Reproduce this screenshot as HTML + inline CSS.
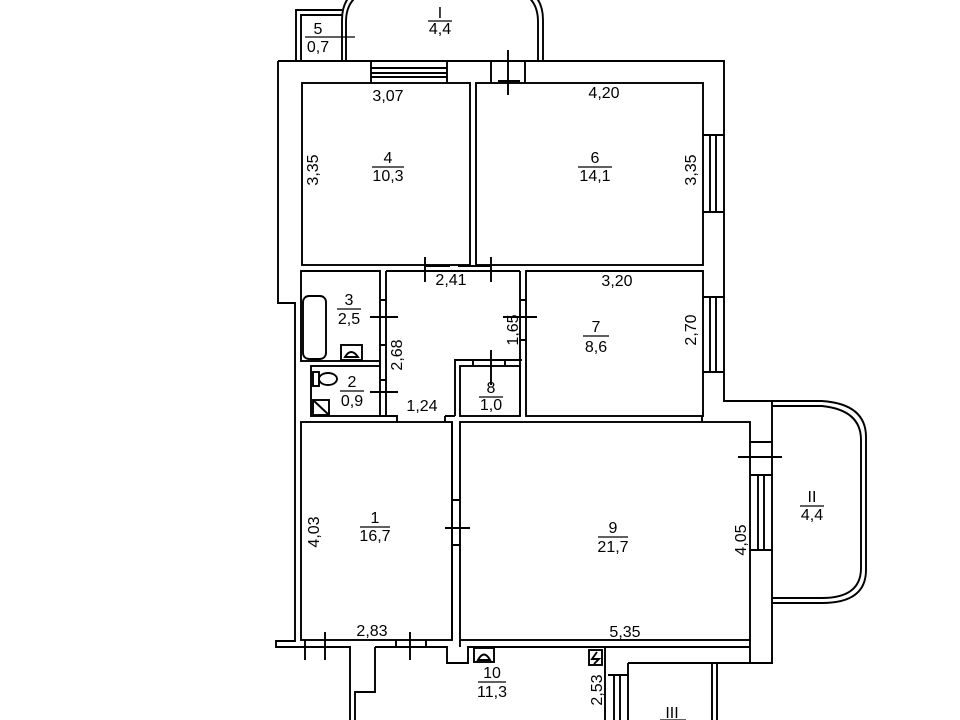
<!DOCTYPE html>
<html><head><meta charset="utf-8"><style>
html,body{margin:0;padding:0;background:#fff}
svg{display:block}
text{font-family:"Liberation Sans",sans-serif;font-size:16px;fill:#000;text-anchor:middle}
</style></head><body>
<svg width="960" height="720" viewBox="0 0 960 720" xmlns="http://www.w3.org/2000/svg">
<g fill="none" stroke="#000" stroke-width="1.9">
<path d="M278,61 H724 V401 H773 M772,401 V663 H628 M278,61 V303 H295 V641 H276 V647 H350 V720 M605,647 V720"/>
<path d="M342,61 V20 Q342,-10 372,-14 M346,61 V22 Q346,-6 374,-10 M543,61 V20 Q543,-10 513,-14 M538,61 V22 Q538,-6 511,-10"/>
<path d="M296,61 V10 H342 M301,61 V15 H342"/>
<path d="M371,61 V83 M447,61 V83 M371,68 H447 M371,73 H447 M371,77 H447 M491,61 V83 M525,61 V83 M508,50 V95 M498,81 H520"/>
<rect x="302" y="83" width="168" height="182"/>
<rect x="476" y="83" width="227" height="182"/>
<path d="M703,135 H724 M703,212 H724 M710,135 V212 M716,135 V212"/>
<path d="M703,297 H724 M703,372 H724 M710,297 V372 M716,297 V372"/>
<path d="M302,271 H380 M386,271 H520 M526,271 H703 M425,257 V282 M491,257 V282 M426,266 H450 M458,266 H490"/>
<rect x="301" y="271" width="79" height="90"/>
<rect x="303" y="296" width="23" height="63" rx="6"/>
<rect x="341" y="345" width="21" height="15"/>
<path d="M345,357 Q351,347 358,357 Z"/>
<rect x="311" y="366" width="69" height="50"/>
<rect x="313" y="372" width="6" height="14"/><ellipse cx="328" cy="379" rx="9" ry="6"/>
<rect x="313" y="400" width="16" height="15"/><path d="M313,400 L329,415"/>
<path d="M386,271 V416 M380,361 V366 M380,416 H397 V422 M370,317 H398 M370,392 H398 M380,300 H386 M380,345 H386 M380,380 H386"/>
<path d="M455,416 V360 H522"/>
<rect x="460" y="366" width="60" height="50"/>
<path d="M491,350 V385 M473,366 V361 M505,366 V361"/>
<rect x="526" y="271" width="177" height="145"/>
<path d="M520,271 V416 M503,317 H537 M520,300 H526 M520,340 H526"/>
<path d="M702,416 V422 M445,416 H455 M445,416 V422"/>
<rect x="301" y="422" width="151" height="218"/>
<rect x="460" y="422" width="290" height="218"/>
<path d="M452,422 V640 M445,528 H470 M452,500 H460 M452,545 H460"/>
<path d="M751,442 H773 M751,475 H773 M738,457 H782 M751,550 H773 M758,475 V550 M764,475 V550"/>
<path d="M773,401 H822 Q866,404 866,437 V570 Q866,603 822,603 H773 M773,406 H822 Q861,410 861,440 V568 Q861,598 822,598 H773"/>
<path d="M301,647 H350 M375,647 H447 V663 H468 V647 H750 M460,640 V647 M750,640 V663 M305,640 V660 M325,632 V660 M410,632 V660 M396,640 V647 M426,640 V647"/>
<path d="M375,647 V692 H355 V720"/>
<rect x="474" y="648" width="20" height="14"/><path d="M478,660 Q484,649 490,660 Z"/>
<rect x="589" y="650" width="13" height="15"/><path d="M597,652 L592,659 H599 L594,664"/>
<path d="M608,675 H628 M614,675 V720 M620,675 V720 M628,663 V720 M712,663 V720 M717,663 V720"/>
</g>
<g>
<text x="318" y="34">5</text><text x="318" y="52">0,7</text>
<text x="440" y="18">I</text><text x="440" y="34">4,4</text>
<text x="388" y="101">3,07</text><text x="604" y="98">4,20</text>
<text x="388" y="163">4</text><text x="388" y="181">10,3</text>
<text x="595" y="163">6</text><text x="595" y="181">14,1</text>
<text transform="translate(318,170) rotate(-90)">3,35</text>
<text transform="translate(696,170) rotate(-90)">3,35</text>
<text x="451" y="285">2,41</text><text x="617" y="286">3,20</text>
<text x="349" y="305">3</text><text x="349" y="324">2,5</text>
<text transform="translate(402,355) rotate(-90)">2,68</text>
<text transform="translate(518,330) rotate(-90)">1,65</text>
<text x="596" y="332">7</text><text x="596" y="352">8,6</text>
<text transform="translate(696,330) rotate(-90)">2,70</text>
<text x="352" y="387">2</text><text x="352" y="406">0,9</text>
<text x="422" y="411">1,24</text>
<text x="491" y="393">8</text><text x="491" y="410">1,0</text>
<text x="375" y="523">1</text><text x="375" y="541">16,7</text>
<text transform="translate(319,532) rotate(-90)">4,03</text>
<text x="613" y="533">9</text><text x="613" y="552">21,7</text>
<text transform="translate(746,540) rotate(-90)">4,05</text>
<text x="812" y="502">II</text><text x="812" y="520">4,4</text>
<text x="372" y="636">2,83</text><text x="625" y="637">5,35</text>
<text x="492" y="678">10</text><text x="492" y="697">11,3</text>
<text transform="translate(602,690) rotate(-90)">2,53</text>
<text x="672" y="718">III</text>
</g>
<g stroke="#000" stroke-width="1.2">
<line x1="305" y1="37" x2="355" y2="37"/>
<line x1="428" y1="21" x2="452" y2="21"/>
<line x1="372" y1="167" x2="404" y2="167"/><line x1="578" y1="167" x2="612" y2="167"/>
<line x1="337" y1="309" x2="361" y2="309"/><line x1="583" y1="336" x2="609" y2="336"/>
<line x1="340" y1="391" x2="364" y2="391"/><line x1="479" y1="397" x2="503" y2="397"/>
<line x1="360" y1="527" x2="390" y2="527"/><line x1="598" y1="537" x2="628" y2="537"/>
<line x1="800" y1="506" x2="824" y2="506"/><line x1="478" y1="682" x2="506" y2="682"/>
<line x1="660" y1="720" x2="686" y2="720"/>
</g>
</svg>
</body></html>
